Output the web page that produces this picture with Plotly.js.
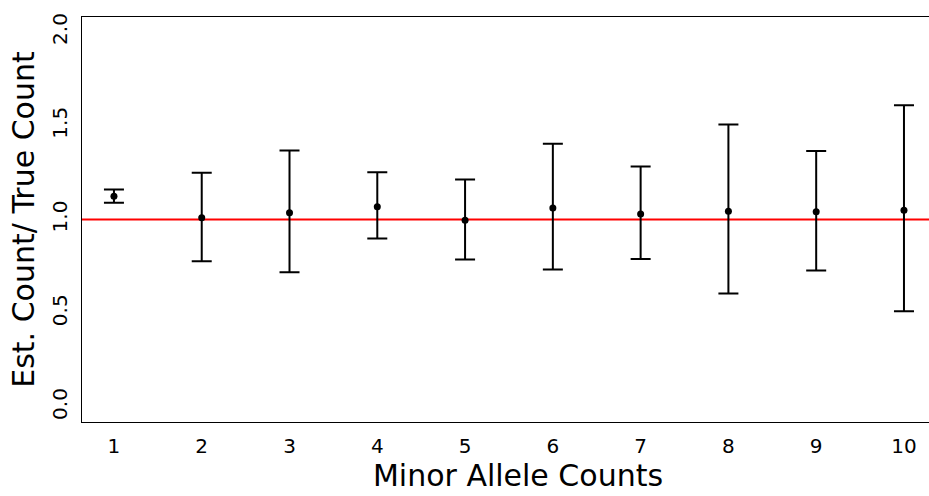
<!DOCTYPE html>
<html>
<head>
<meta charset="utf-8">
<script src="https://cdn.plot.ly/plotly-3.0.1.min.js"></script>
<style>
html, body { margin: 0; padding: 0; overflow: hidden; background: #fff; }
#chart { width: 980px; height: 496px; }
</style>
</head>
<body>
<div id="chart"></div>
<script>
// Data
const minorAlleleCounts = [1, 2, 3, 4, 5, 6, 7, 8, 9, 10];
const tickLabels = ["1", "2", "3", "4", "5", "6", "7", "8", "9", "10"];
const estimateRatio = [1.124, 1.009, 1.036, 1.068, 0.996, 1.062, 1.030, 1.044, 1.041, 1.050];
const upperBound = [1.160, 1.249, 1.368, 1.252, 1.213, 1.404, 1.283, 1.507, 1.366, 1.610];
const lowerBound = [1.089, 0.778, 0.719, 0.899, 0.787, 0.733, 0.790, 0.605, 0.728, 0.511];
const referenceRatio = 1;
const yTickVals = [0, 0.5, 1, 1.5, 2];
const yTickText = ["0.0", "0.5", "1.0", "1.5", "2.0"];

const errPlus = estimateRatio.map((v, i) => upperBound[i] - v);
const errMinus = estimateRatio.map((v, i) => v - lowerBound[i]);

const font = "DejaVu Sans, Liberation Sans, sans-serif";

const trace = {
  type: "scatter",
  mode: "markers",
  x: minorAlleleCounts,
  y: estimateRatio,
  marker: { color: "#000", size: 7 },
  error_y: {
    type: "data",
    symmetric: false,
    array: errPlus,
    arrayminus: errMinus,
    color: "#000",
    thickness: 2,
    width: 10
  },
  showlegend: false,
  hoverinfo: "x+y"
};

const layout = {
  width: 980,
  height: 496,
  margin: { l: 82, r: 26, t: 17, b: 74 },
  paper_bgcolor: "#fff",
  plot_bgcolor: "#fff",
  font: { family: font, color: "#000" },
  xaxis: {
    range: [0.636, 10.57],
    tickvals: minorAlleleCounts,
    ticktext: tickLabels,
    ticks: "",
    showgrid: false,
    zeroline: false,
    showline: true,
    mirror: true,
    linecolor: "#000",
    linewidth: 1,
    tickfont: { size: 20, family: font, color: "#000" },
    ticklabelstandoff: 6,
    title: { text: "Minor Allele Counts", font: { size: 30, family: font, color: "#000" }, standoff: 5 }
  },
  yaxis: {
    range: [-0.08, 2.08],
    tickvals: yTickVals,
    ticktext: yTickText,
    tickangle: -90,
    ticks: "",
    showgrid: false,
    zeroline: false,
    showline: true,
    mirror: true,
    linecolor: "#000",
    linewidth: 1,
    tickfont: { size: 20, family: font, color: "#000" },
    ticklabelstandoff: 6,
    title: { text: "Est. Count/ True Count", font: { size: 30, family: font, color: "#000" }, standoff: 4 }
  },
  shapes: [{
    type: "line",
    xref: "paper",
    yref: "y",
    x0: 0, x1: 1,
    y0: referenceRatio, y1: referenceRatio,
    line: { color: "#ff0000", width: 2 },
    layer: "below"
  }]
};

Plotly.newPlot("chart", [trace], layout, { displayModeBar: false, staticPlot: true });
</script>
</body>
</html>
